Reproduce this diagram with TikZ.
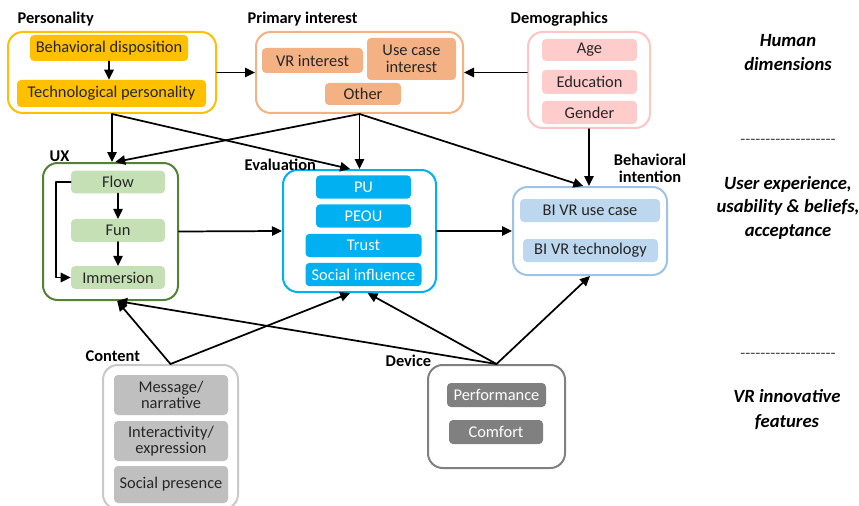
\documentclass[tikz,border=0pt]{standalone}
\usepackage{fontspec}
\setmainfont{Carlito}
\usetikzlibrary{arrows.meta,positioning}
\definecolor{cGold}{HTML}{FFC000}
\definecolor{cPeach}{HTML}{F4B183}
\definecolor{cPink}{HTML}{FFCCCC}
\definecolor{cPinkLine}{HTML}{FFC4C4}
\definecolor{cGreen}{HTML}{548235}
\definecolor{cGreenFill}{HTML}{C5E0B4}
\definecolor{cCyan}{HTML}{00B0F0}
\definecolor{cSky}{HTML}{BDD7EE}
\definecolor{cSkyLine}{HTML}{9DC3E6}
\definecolor{cGrayLt}{HTML}{BFBFBF}
\definecolor{cGrayDk}{HTML}{808080}
\newcommand\hyphenrow{\foreach \i in {1,...,19}{-\kern0pt}}

\begin{document}
\begin{tikzpicture}[
 x=.75pt,y=-.75pt,font=\fontsize{12.3}{12.8}\selectfont,
 line cap=round,line join=round,
 group/.style={draw,line width=1.5pt,rounded corners=11pt,fill=white,inner sep=0pt},
 item/.style={rounded corners=3pt,inner sep=1pt,align=center,text=black!85},
 head/.style={font=\fontsize{12.3}{13}\selectfont\bfseries,anchor=west},
 side/.style={font=\fontsize{14}{18.5}\selectfont\bfseries\itshape,align=center},
 rule/.style={font=\fontsize{12.3}{14}\selectfont,text=black!70},
 wire/.style={draw=black,line width=1.3pt,-{Triangle[length=7.5pt,width=7pt]}}]
\path[use as bounding box] (0,0) rectangle (859,506);

% group boxes
\node[group,draw=cGold,minimum width=156pt,minimum height=60.75pt] (pers) at (112,72.5) {};
\node[group,draw=cPeach,minimum width=155.25pt,minimum height=60.75pt] (prim) at (359.5,72.5) {};
\node[group,draw=cPinkLine,minimum width=91.5pt,minimum height=72pt] (demo) at (589,80) {};
\node[group,draw=cGreen,minimum width=101.25pt,minimum height=102.75pt] (ux) at (110.5,231.5) {};
\node[group,draw=cCyan,minimum width=114.75pt,minimum height=91.5pt] (eval) at (359.5,231) {};
\node[group,draw=cSkyLine,minimum width=115.5pt,minimum height=66pt] (bi) at (590,231) {};
\node[group,draw=cGrayLt!85,minimum width=101.25pt,minimum height=108pt] (cont) at (170.5,437) {};
\node[group,draw=cGrayDk,minimum width=102.75pt,minimum height=77.25pt] (dev) at (496.5,416.5) {};

% group headings
\node[head] (persH) at (13,19) {Personality};
\node[head] (primH) at (243,19) {Primary interest};
\node[head] (demoH) at (506,19) {Demographics};
\node[head] (uxH) at (45,156) {UX};
\node[head] (evalH) at (240,165) {Evaluation};
\node[head,anchor=center,align=center,font=\fontsize{12.3}{12.8}\selectfont\bfseries] (biH) at (650,168.5) {Behavioral\\intention};
\node[head] (contH) at (81,356) {Content};
\node[head] (devH) at (381,361) {Device};

% personality
\node[item,fill=cGold,minimum width=118.5pt,minimum height=19.5pt] (bd) at (109,48) {Behavioral disposition};
\node[item,fill=cGold,minimum width=141.75pt,minimum height=20.25pt] (tp) at (111.5,93.5) {Technological personality};

% primary interest
\node[item,fill=cPeach,minimum width=75.75pt,minimum height=18.75pt] (vri) at (312.5,60.5) {VR interest};
\node[item,fill=cPeach,minimum width=66.75pt,minimum height=31.5pt] (uci) at (411.5,59) {Use case\\interest};
\node[item,fill=cPeach,minimum width=57pt,minimum height=16.5pt] (oth) at (363,94) {Other};

% demographics
\node[item,fill=cPink,minimum width=71.25pt,minimum height=16.5pt] (age) at (589.5,50) {Age};
\node[item,fill=cPink,minimum width=71.25pt,minimum height=18pt] (edu) at (589.5,82) {Education};
\node[item,fill=cPink,minimum width=71.25pt,minimum height=17.25pt] (gen) at (589.5,112.5) {Gender};

% UX
\foreach \nm/\lab/\yy in {flow/Flow/182,fun/Fun/230.5,imm/Immersion/277.5}
  \node[item,fill=cGreenFill,minimum width=70.5pt,minimum height=17pt] (\nm) at (118,\yy) {\lab};

% evaluation
\foreach \nm/\lab/\yy/\ww in {pu/PU/187/71.25pt,peou/PEOU/216/71.25pt,trust/Trust/245.5/87pt,soc/Social influence/274.5/87pt}
  \node[item,fill=cCyan,text=white,minimum width=\ww,minimum height=17.5pt] (\nm) at (363.5,\yy) {\lab};

% behavioral intention
\node[item,fill=cSky,minimum width=105pt,minimum height=17.25pt] (biu) at (590,210.5) {BI VR use case};
\node[item,fill=cSky,minimum width=101.25pt,minimum height=17.25pt] (bit) at (590.5,250.5) {BI VR technology};

% content
\node[item,fill=cGrayLt,minimum width=85.5pt,minimum height=30pt,font=\fontsize{12.3}{12.3}\selectfont] (msg) at (171,395) {Message/\\narrative};
\node[item,fill=cGrayLt,minimum width=85.5pt,minimum height=30pt,font=\fontsize{12.3}{12.3}\selectfont] (inter) at (171,441) {Interactivity/\\expression};
\node[item,fill=cGrayLt,minimum width=85.5pt,minimum height=27.75pt] (socp) at (171,484.5) {Social presence};

% device
\node[item,fill=cGrayDk,text=white,minimum width=74.25pt,minimum height=18pt] (perf) at (496.5,395) {Performance};
\node[item,fill=cGrayDk,text=white,minimum width=70.5pt,minimum height=18pt] (comf) at (496,432) {Comfort};

% side captions
\node[side] (sHuman) at (788,52.5) {Human\\dimensions};
\node[rule] (r1) at (788,142) {\hyphenrow};
\node[side,font=\fontsize{14}{17.6}\selectfont\bfseries\itshape] (sUser) at (788,207.5) {User experience,\\usability \& beliefs,\\acceptance};
\node[rule] (r2) at (788,356) {\hyphenrow};
\node[side] (sVR) at (787,409.5) {VR innovative\\features};

% inner links
\draw[wire] (bd.south) -- (bd.south |- tp.north);
\draw[wire] (flow) -- (fun);
\draw[wire] (fun) -- (imm);
\draw[wire] (flow.west) -- ++(-15,0) |- (imm.west);

% links between groups
\draw[wire] (pers.east) -- (prim.west);
\draw[wire] (demo.west |- prim.east) -- (prim.east);
\draw[wire] (pers.south) -- (pers.south |- ux.north);
\draw[wire] (pers.south) -- ([xshift=-7pt]eval.north);
\draw[wire] (prim.south) -- ([xshift=3.5pt]ux.north);
\draw[wire] (prim.south) -- (eval.north);
\draw[wire] (prim.south) -- ([xshift=-5pt]bi.north);
\draw[wire] (demo.south) -- (demo.south |- bi.north);
\draw[wire] (ux.east) -- (eval.west);
\draw[wire] (eval.east) -- (bi.west);
\draw[wire] (cont.north) -- ([xshift=5pt]ux.south);
\draw[wire] (cont.north) -- ([xshift=-7pt]eval.south);
\draw[wire] (dev.north) -- ([xshift=5pt]ux.south);
\draw[wire] (dev.north) -- ([xshift=6pt]eval.south);
\draw[wire] (dev.north) -- (bi.south);
\end{tikzpicture}
\end{document}
